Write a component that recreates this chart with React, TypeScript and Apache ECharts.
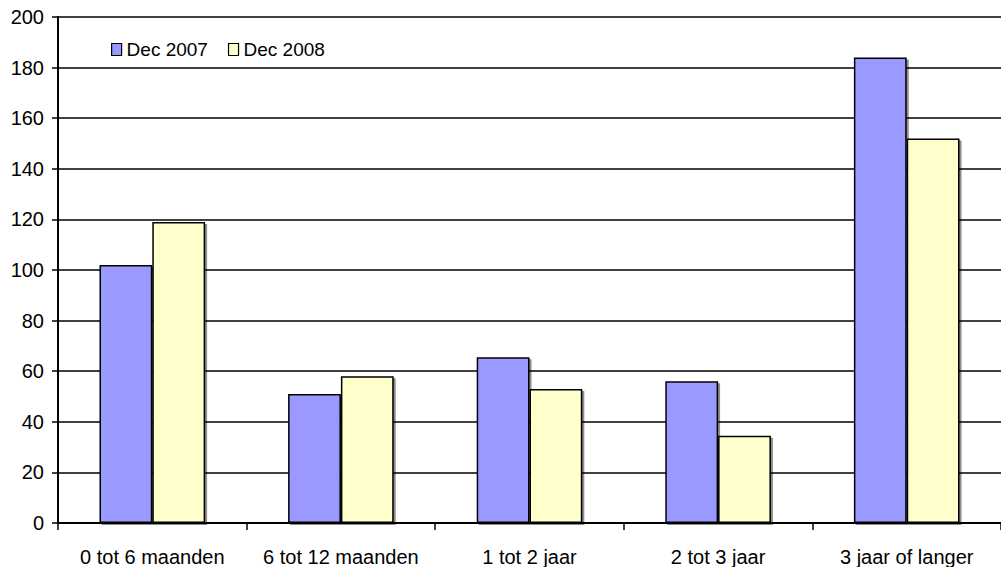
import React, { useEffect, useRef } from "react";
import * as echarts from "echarts";

const categories = ["0 tot 6 maanden", "6 tot 12 maanden", "1 tot 2 jaar", "2 tot 3 jaar", "3 jaar of langer"];
const seriesNames = ["Dec 2007", "Dec 2008"];
const dec2007 = [102, 51, 65.5, 56, 184];
const dec2008 = [119, 58, 53, 34.5, 152];
const colors = ["#9999FF", "#FFFFCC"];

export default function App() {
  const ref = useRef<HTMLDivElement>(null);
  useEffect(() => {
    if (!ref.current) return;
    const chart = echarts.init(ref.current, null, { renderer: "svg" });
    const font = "Liberation Sans, Arial, sans-serif";
    const barStyle = (c: string) => ({
      color: c,
      borderColor: "#000",
      borderWidth: 1.5,
      shadowColor: "rgba(0,0,0,0.45)",
      shadowOffsetX: 2,
      shadowOffsetY: 2,
      shadowBlur: 0,
    });
    chart.setOption({
      animation: false,
      backgroundColor: "#fff",
      textStyle: { fontFamily: font },
      legend: {
        left: 106,
        top: 35,
        icon: "rect",
        itemWidth: 10,
        itemHeight: 12,
        itemGap: 20,
        itemStyle: { borderColor: "#000", borderWidth: 1.2 },
        textStyle: { fontSize: 19, color: "#000", fontFamily: font },
        data: seriesNames,
      },
      grid: { left: 58, top: 17, width: 952, height: 506, containLabel: false },
      xAxis: {
        type: "category",
        data: categories,
        axisLine: { lineStyle: { color: "#000", width: 2 } },
        axisTick: { show: true, length: 7, alignWithLabel: false, lineStyle: { color: "#000", width: 1.5 } },
        axisLabel: { color: "#000", fontSize: 20, margin: 24, fontFamily: font, interval: 0 },
      },
      yAxis: {
        type: "value",
        min: 0,
        max: 200,
        interval: 20,
        axisLine: { show: true, lineStyle: { color: "#000", width: 2 } },
        axisTick: { show: true, length: 6, lineStyle: { color: "#000", width: 1.5 } },
        axisLabel: { color: "#000", fontSize: 20, margin: 14, fontFamily: font },
        splitLine: { show: true, lineStyle: { color: "#000", width: 1.5 } },
      },
      series: [
        {
          name: seriesNames[0],
          type: "bar",
          data: dec2007,
          barGap: "0%",
          barCategoryGap: "44%",
          itemStyle: barStyle(colors[0]),
        },
        {
          name: seriesNames[1],
          type: "bar",
          data: dec2008,
          barGap: "0%",
          barCategoryGap: "44%",
          itemStyle: barStyle(colors[1]),
        },
      ],
    });
    return () => chart.dispose();
  }, []);
  return (
    <div
      ref={ref}
      style={{ position: "fixed", left: 0, top: 0, width: 1001, height: 567, background: "#fff" }}
    />
  );
}
